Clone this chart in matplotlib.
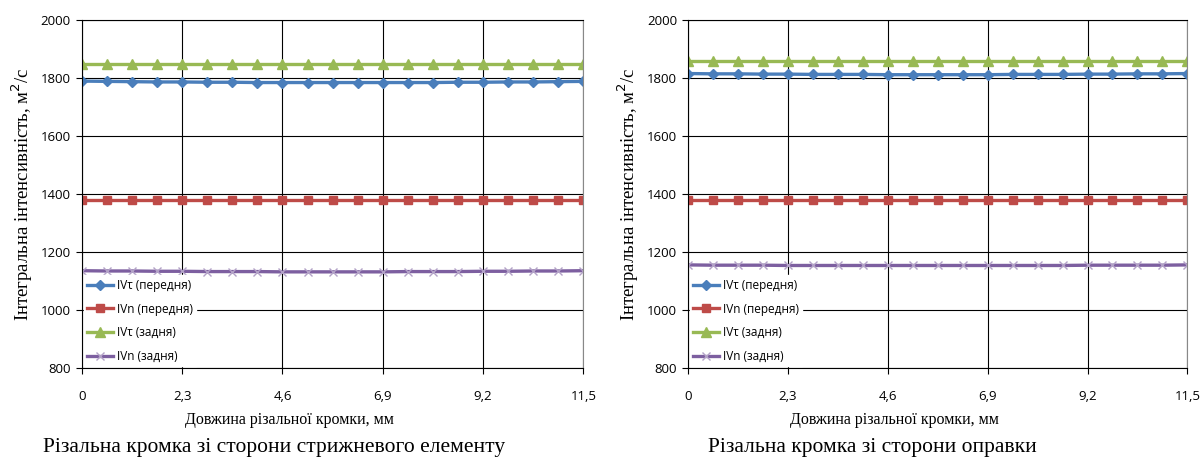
import matplotlib.pyplot as plt
import numpy as np

# 21 точка вздовж різальної кромки, 0 ... 11,5 мм
x = np.linspace(0, 11.5, 21)

# ліва діаграма: зі сторони стрижневого елементу
left_t_front = [1790, 1789, 1788, 1787, 1787, 1786, 1786, 1785, 1785, 1785, 1785,
                1785, 1785, 1785, 1785, 1786, 1786, 1787, 1787, 1788, 1789]
left_n_front = [1380] * 21
left_t_back = [1848] * 21
left_n_back = [1136, 1135, 1135, 1134, 1134, 1133, 1133, 1133, 1132, 1132, 1132,
               1132, 1132, 1133, 1133, 1133, 1134, 1134, 1135, 1135, 1136]

# права діаграма: зі сторони оправки
right_t_front = [1816, 1815, 1815, 1814, 1814, 1813, 1813, 1813, 1812, 1812, 1812,
                 1812, 1812, 1813, 1813, 1813, 1814, 1814, 1815, 1815, 1816]
right_n_front = [1380] * 21
right_t_back = [1860] * 21
right_n_back = [1156, 1155, 1155, 1155, 1154, 1154, 1154, 1154, 1154, 1154, 1154,
                1154, 1154, 1154, 1154, 1154, 1155, 1155, 1155, 1155, 1156]

labels = ['IVτ (передня)', 'IVn (передня)', 'IVτ (задня)', 'IVn (задня)']
xticks = [0, 2.3, 4.6, 6.9, 9.2, 11.5]
xticklabels = ['0', '2,3', '4,6', '6,9', '9,2', '11,5']
titles = ['Різальна кромка зі сторони стрижневого елементу',
          'Різальна кромка зі сторони оправки']

styles = [
    dict(color='#4a7ebb', marker='D', markersize=5),
    dict(color='#be4b48', marker='s', markersize=6),
    dict(color='#98b954', marker='^', markersize=7),
    dict(color='#7d5fa0', marker='x', markersize=6, markeredgewidth=1, mec='#b3a2c7'),
]

fig = plt.figure(figsize=(12.03, 4.59), dpi=100)
positions = [[0.068, 0.198, 0.417, 0.758], [0.572, 0.198, 0.415, 0.758]]
data = [[left_t_front, left_n_front, left_t_back, left_n_back],
        [right_t_front, right_n_front, right_t_back, right_n_back]]
caption_x = [274 / 1203, 872 / 1203]

tick_font = 'Open Sans'
serif = 'Liberation Serif'

for pos, series, title, cx in zip(positions, data, titles, caption_x):
    ax = fig.add_axes(pos)
    for y, lab, st in zip(series, labels, styles):
        ax.plot(x, y, linewidth=2.4, label=lab, **st)
    ax.set_xlim(0, 11.5)
    ax.set_ylim(800, 2000)
    ax.set_yticks(range(800, 2001, 200))
    ax.set_xticks(xticks)
    ax.set_xticklabels(xticklabels)
    ax.grid(True, color='black', linewidth=0.8)
    ax.set_axisbelow(True)
    for s in ax.spines.values():
        s.set_linewidth(0.8)
    ax.spines['right'].set_color('#888888')
    ax.tick_params(axis='both', direction='out', length=4, labelsize=9.5, pad=12)
    ax.tick_params(axis='y', pad=4)
    for t in ax.get_xticklabels() + ax.get_yticklabels():
        t.set_fontfamily(tick_font)
    ax.set_xlabel('Довжина різальної кромки, мм', fontfamily=serif, fontsize=11.5, labelpad=8)
    ax.xaxis.set_label_coords(0.413, -0.125)
    ax.set_ylabel('Інтегральна інтенсивність, м$^2$/с', fontfamily=serif, fontsize=13.5, labelpad=4)
    ax.legend(loc='lower left', frameon=True, fancybox=False, edgecolor='white',
              framealpha=1, prop={'family': tick_font, 'size': 8.5},
              handlelength=2.2, borderaxespad=0.15, labelspacing=0.9, handletextpad=0.3,
              borderpad=0.3)
    fig.text(cx, 0.005, title, ha='center', va='bottom', fontfamily=serif, fontsize=15.5)

fig.savefig('out.png', dpi=100)
